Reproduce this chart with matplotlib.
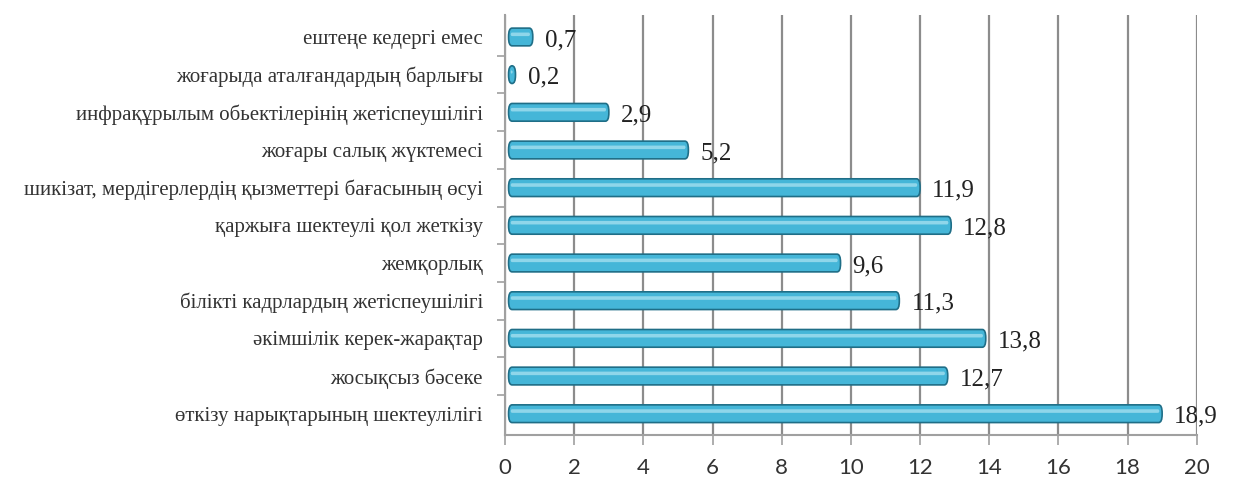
import matplotlib
matplotlib.use('Agg')
import matplotlib.pyplot as plt
import matplotlib.patches as mpatches

# data, bottom to top as drawn
categories = [
    'өткізу нарықтарының шектеулілігі',
    'жосықсыз бәсеке',
    'әкімшілік керек-жарақтар',
    'білікті кадрлардың жетіспеушілігі',
    'жемқорлық',
    'қаржыға шектеулі қол жеткізу',
    'шикізат, мердігерлердің қызметтері бағасының өсуі',
    'жоғары салық жүктемесі',
    'инфрақұрылым обьектілерінің жетіспеушілігі',
    'жоғарыда аталғандардың барлығы',
    'ештеңе кедергі емес',
]
values = [18.9, 12.7, 13.8, 11.3, 9.6, 12.8, 11.9, 5.2, 2.9, 0.2, 0.7]
xticks = [0, 2, 4, 6, 8, 10, 12, 14, 16, 18, 20]

BAR = '#45B6D8'
EDGE = '#1F6E87'
HILITE = '#A3DFEF'
GRID = '#8C8C8C'

fig = plt.figure(figsize=(12.35, 4.88), dpi=100)
ax = fig.add_axes([0.409, 0.109, 0.560, 0.860])

ypos = list(range(len(categories)))
bars = ax.barh(ypos, values, height=0.47, color='none', edgecolor='none')

# rounded "cylinder" bars built from the bar geometry
for b in bars:
    x0, y0, w, h = b.get_x(), b.get_y(), b.get_width(), b.get_height()
    ax.add_patch(mpatches.FancyBboxPatch(
        (x0 + 0.1, y0), max(w, 0.12), h,
        boxstyle='round,pad=0,rounding_size=0.1',
        fc=BAR, ec=EDGE, lw=1.2, zorder=3, mutation_aspect=2.2))
    ax.add_patch(mpatches.FancyBboxPatch(
        (x0 + 0.16, y0 + h * 0.55), max(w - 0.14, 0.02), h * 0.2,
        boxstyle='round,pad=0,rounding_size=0.04',
        fc=HILITE, ec='none', zorder=4, alpha=0.8, mutation_aspect=1.5))

for b, v in zip(bars, values):
    ax.text(b.get_width() + 0.45, b.get_y() + b.get_height() / 2 - 0.08,
            f'{v:.1f}'.replace('.', ','), ha='left', va='center',
            fontsize=18, family='Liberation Serif', color='#222222', zorder=5)

ax.set_xlim(0, 20)
ax.set_ylim(-0.56, 10.58)
ax.set_xticks(xticks)
ax.set_xticklabels([str(t) for t in xticks], fontsize=16, family='Lato',
                   color='#333333')
ax.set_yticks(ypos)
ax.set_yticklabels(categories, fontsize=15, family='Liberation Serif',
                   color='#333333')
ax.set_yticks([p + 0.5 for p in ypos[:-1]], minor=True)

ax.grid(axis='x', color=GRID, lw=1.6, zorder=0)
ax.set_axisbelow(True)
for s in ['top', 'right']:
    ax.spines[s].set_visible(False)
for s in ['left', 'bottom']:
    ax.spines[s].set_color('#A0A0A0')
    ax.spines[s].set_linewidth(1.5)
ax.tick_params(axis='y', which='major', length=0, pad=16)
ax.tick_params(axis='y', which='minor', length=6, color='#A0A0A0', width=1.2)
ax.tick_params(axis='x', length=7, color='#A0A0A0', width=1.2, pad=10)

fig.savefig('out.png', dpi=100)
